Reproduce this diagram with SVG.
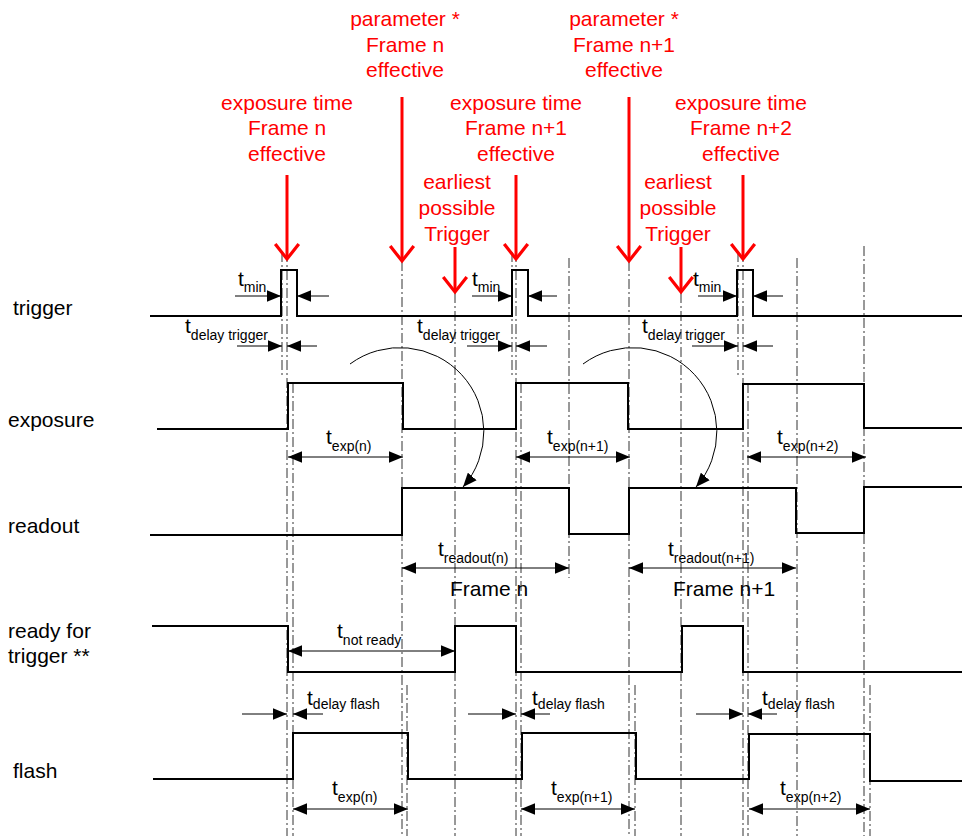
<svg xmlns="http://www.w3.org/2000/svg" width="962" height="836" viewBox="0 0 962 836">
<style>
text{font-family:"Liberation Sans",Arial,sans-serif;fill:#000}
.lbl{font-size:21px}
.red{font-size:21px;fill:#ff0000;text-anchor:middle}
.T{font-size:21px}
.s{font-size:14px}
.sig{fill:none;stroke:#000;stroke-width:2}
.grid{stroke:#333;stroke-width:1;stroke-dasharray:10 3 2 3;fill:none}
.dim{stroke:#000;stroke-width:1;fill:none;marker-end:url(#ah)}
.dd{stroke:#000;stroke-width:1;fill:none;marker-start:url(#ahs);marker-end:url(#ah)}
.rarr{stroke:#ff0000;stroke-width:3;fill:none;marker-end:url(#rh)}
.arc{stroke:#000;stroke-width:1;fill:none;marker-end:url(#ah)}
</style>
<defs>
<marker id="ah" markerUnits="userSpaceOnUse" markerWidth="14" markerHeight="12" viewBox="0 0 12 10" refX="12" refY="5" orient="auto"><path d="M0,0 L12,5 L0,10 z" fill="#000"/></marker>
<marker id="ahs" markerUnits="userSpaceOnUse" markerWidth="14" markerHeight="12" viewBox="0 0 12 10" refX="12" refY="5" orient="auto-start-reverse"><path d="M0,0 L12,5 L0,10 z" fill="#000"/></marker>
<marker id="rh" markerUnits="userSpaceOnUse" markerWidth="30" markerHeight="30" viewBox="-18 -14 22 28" refX="0" refY="0" orient="auto" overflow="visible"><path d="M-14,-11 L0,0 L-14,11" fill="none" stroke="#ff0000" stroke-width="3"/></marker>
</defs>

<g id="grid-lines">
<line class="grid" x1="282" y1="252" x2="282" y2="375"/>
<line class="grid" x1="287" y1="252" x2="287" y2="836"/>
<line class="grid" x1="293" y1="383" x2="293" y2="836"/>
<line class="grid" x1="402" y1="261" x2="402" y2="836"/>
<line class="grid" x1="407" y1="685" x2="407" y2="836"/>
<line class="grid" x1="455" y1="293" x2="455" y2="836"/>
<line class="grid" x1="512" y1="252" x2="512" y2="375"/>
<line class="grid" x1="516" y1="252" x2="516" y2="836"/>
<line class="grid" x1="521" y1="383" x2="521" y2="836"/>
<line class="grid" x1="569" y1="258" x2="569" y2="578"/>
<line class="grid" x1="629" y1="261" x2="629" y2="836"/>
<line class="grid" x1="635" y1="685" x2="635" y2="836"/>
<line class="grid" x1="681" y1="293" x2="681" y2="836"/>
<line class="grid" x1="738" y1="252" x2="738" y2="375"/>
<line class="grid" x1="743" y1="252" x2="743" y2="836"/>
<line class="grid" x1="748" y1="383" x2="748" y2="836"/>
<line class="grid" x1="797" y1="258" x2="797" y2="836"/>
<line class="grid" x1="864" y1="246" x2="864" y2="836"/>
<line class="grid" x1="870" y1="685" x2="870" y2="836"/>
</g>

<g id="sig-trigger">
<text class="lbl" x="13" y="315">trigger</text>
<path class="sig" d="M150,316 H281 V270 H297 V316 H512 V270 H528 V316 H737 V270 H753 V316 H962"/>
</g>
<g id="sig-exposure">
<text class="lbl" x="8" y="427">exposure</text>
<path class="sig" d="M157,429 H288 V383 H403 V429 H516 V383 H628 V429 H743 V384 H864 V428 H962"/>
</g>
<g id="sig-readout">
<text class="lbl" x="8" y="533">readout</text>
<path class="sig" d="M150,535 H402 V488 H569 V534 H629 V488 H796 V533 H864 V487 H962"/>
</g>
<g id="sig-ready">
<text class="lbl" x="8" y="638">ready for</text>
<text class="lbl" x="8" y="663">trigger **</text>
<path class="sig" d="M152,626 H288 V672 H455 V626 H516 V672 H682 V626 H743 V672 H962"/>
</g>
<g id="sig-flash">
<text class="lbl" x="13" y="778">flash</text>
<path class="sig" d="M153,779 H293 V733 H408 V779 H522 V733 H636 V779 H749 V734 H870 V781 H962"/>
</g>

<g id="note-exp-n">
<text class="red" x="287" y="110">exposure time</text>
<text class="red" x="287" y="135">Frame n</text>
<text class="red" x="287" y="161">effective</text>
</g>
<g id="note-param-n">
<text class="red" x="405" y="26">parameter *</text>
<text class="red" x="405" y="52">Frame n</text>
<text class="red" x="405" y="77">effective</text>
</g>
<g id="note-earliest-1">
<text class="red" x="457" y="189">earliest</text>
<text class="red" x="457" y="215">possible</text>
<text class="red" x="457" y="241">Trigger</text>
</g>
<g id="note-exp-n1">
<text class="red" x="516" y="110">exposure time</text>
<text class="red" x="516" y="135">Frame n+1</text>
<text class="red" x="516" y="161">effective</text>
</g>
<g id="note-param-n1">
<text class="red" x="624" y="26">parameter *</text>
<text class="red" x="624" y="52">Frame n+1</text>
<text class="red" x="624" y="77">effective</text>
</g>
<g id="note-earliest-2">
<text class="red" x="678" y="189">earliest</text>
<text class="red" x="678" y="215">possible</text>
<text class="red" x="678" y="241">Trigger</text>
</g>
<g id="note-exp-n2">
<text class="red" x="741" y="110">exposure time</text>
<text class="red" x="741" y="135">Frame n+2</text>
<text class="red" x="741" y="161">effective</text>
</g>

<g id="dim-labels">
<text x="238" y="286"><tspan class="T">t</tspan><tspan class="s" dy="6">min</tspan></text>
<text x="185" y="333"><tspan class="T">t</tspan><tspan class="s" dy="7">delay trigger</tspan></text>
<text x="472" y="286"><tspan class="T">t</tspan><tspan class="s" dy="6">min</tspan></text>
<text x="417" y="333"><tspan class="T">t</tspan><tspan class="s" dy="7">delay trigger</tspan></text>
<text x="693" y="286"><tspan class="T">t</tspan><tspan class="s" dy="6">min</tspan></text>
<text x="642" y="333"><tspan class="T">t</tspan><tspan class="s" dy="7">delay trigger</tspan></text>
<text x="326" y="444"><tspan class="T">t</tspan><tspan class="s" dy="7">exp(n)</tspan></text>
<text x="547" y="444"><tspan class="T">t</tspan><tspan class="s" dy="7">exp(n+1)</tspan></text>
<text x="777" y="444"><tspan class="T">t</tspan><tspan class="s" dy="7">exp(n+2)</tspan></text>
<text x="438" y="556"><tspan class="T">t</tspan><tspan class="s" dy="7">readout(n)</tspan></text>
<text x="668" y="556"><tspan class="T">t</tspan><tspan class="s" dy="7">readout(n+1)</tspan></text>
<text x="450" y="596" style="font-size:21px">Frame n</text>
<text x="673" y="596" style="font-size:21px">Frame n+1</text>
<text x="337" y="638"><tspan class="T">t</tspan><tspan class="s" dy="7">not ready</tspan></text>
<text x="307" y="705"><tspan class="T">t</tspan><tspan class="s" dy="4">delay flash</tspan></text>
<text x="532" y="705"><tspan class="T">t</tspan><tspan class="s" dy="4">delay flash</tspan></text>
<text x="762" y="705"><tspan class="T">t</tspan><tspan class="s" dy="4">delay flash</tspan></text>
<text x="332" y="795"><tspan class="T">t</tspan><tspan class="s" dy="7">exp(n)</tspan></text>
<text x="551" y="795"><tspan class="T">t</tspan><tspan class="s" dy="7">exp(n+1)</tspan></text>
<text x="780" y="795"><tspan class="T">t</tspan><tspan class="s" dy="7">exp(n+2)</tspan></text>
</g>

<g id="connectors">
<line class="rarr" x1="287" y1="175" x2="287" y2="259"/>
<line class="rarr" x1="402" y1="97" x2="402" y2="261"/>
<line class="rarr" x1="455" y1="247" x2="455" y2="292"/>
<line class="rarr" x1="516" y1="175" x2="516" y2="259"/>
<line class="rarr" x1="629" y1="97" x2="629" y2="261"/>
<line class="rarr" x1="681" y1="247" x2="681" y2="292"/>
<line class="rarr" x1="743" y1="175" x2="743" y2="259"/>

<line class="dim" x1="235" y1="296" x2="281" y2="296"/>
<line class="dim" x1="329" y1="296" x2="297" y2="296"/>
<line class="dim" x1="237" y1="346" x2="282" y2="346"/>
<line class="dim" x1="317" y1="346" x2="287" y2="346"/>
<line class="dim" x1="472" y1="296" x2="512" y2="296"/>
<line class="dim" x1="557" y1="296" x2="528" y2="296"/>
<line class="dim" x1="467" y1="346" x2="512" y2="346"/>
<line class="dim" x1="547" y1="346" x2="516" y2="346"/>
<line class="dim" x1="698" y1="296" x2="737" y2="296"/>
<line class="dim" x1="783" y1="296" x2="753" y2="296"/>
<line class="dim" x1="692" y1="346" x2="738" y2="346"/>
<line class="dim" x1="773" y1="346" x2="743" y2="346"/>

<line class="dd" x1="288" y1="457" x2="403" y2="457"/>
<line class="dd" x1="516" y1="457" x2="630" y2="457"/>
<line class="dd" x1="747" y1="457" x2="866" y2="457"/>
<line class="dd" x1="402" y1="568" x2="569" y2="568"/>
<line class="dd" x1="629" y1="568" x2="796" y2="568"/>
<line class="dd" x1="288" y1="651" x2="455" y2="651"/>

<line class="dim" x1="242" y1="714" x2="287" y2="714"/>
<line class="dim" x1="323" y1="714" x2="293" y2="714"/>
<line class="dim" x1="468" y1="714" x2="516" y2="714"/>
<line class="dim" x1="550" y1="714" x2="521" y2="714"/>
<line class="dim" x1="696" y1="714" x2="743" y2="714"/>
<line class="dim" x1="777" y1="714" x2="748" y2="714"/>

<line class="dd" x1="293" y1="809" x2="408" y2="809"/>
<line class="dd" x1="521" y1="809" x2="635" y2="809"/>
<line class="dd" x1="749" y1="809" x2="870" y2="809"/>

<path class="arc" d="M350,364 A84,84 0 0 1 463,487"/>
<path class="arc" d="M583,364 A84,84 0 0 1 696,487"/>
</g>
</svg>
